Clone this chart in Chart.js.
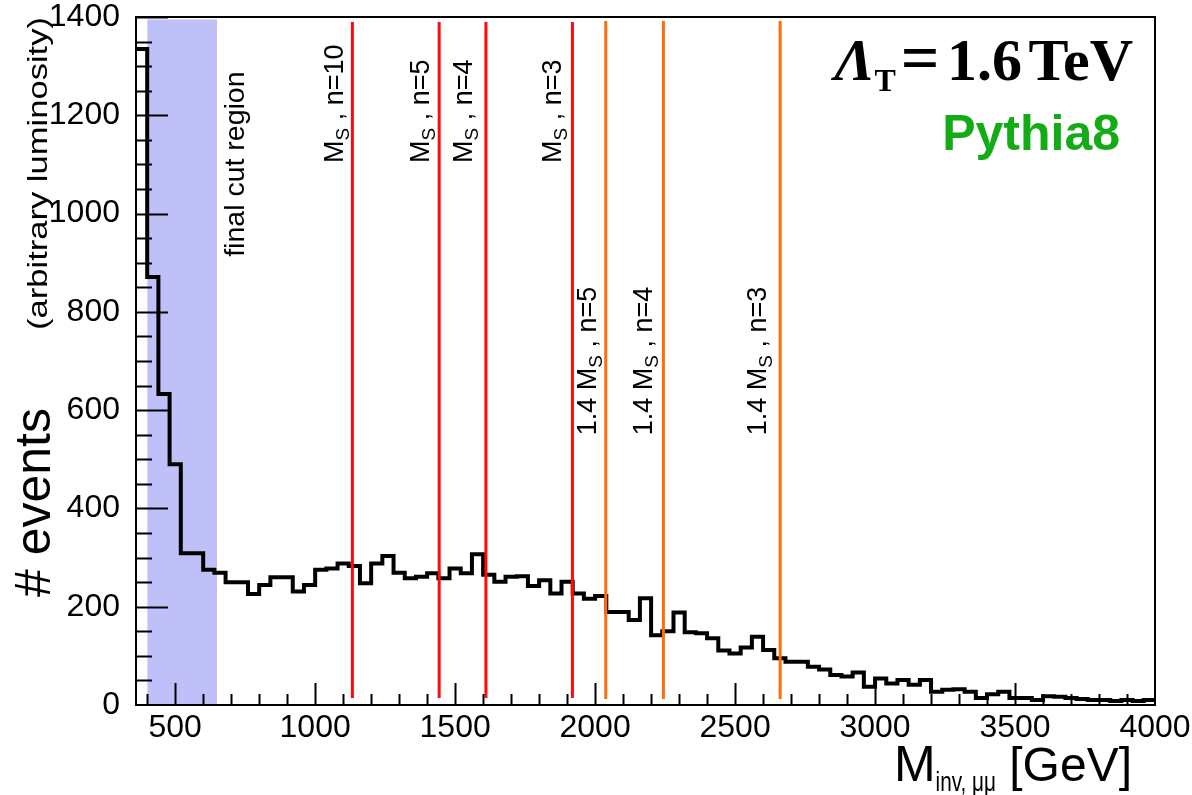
<!DOCTYPE html>
<html>
<head>
<meta charset="utf-8">
<script src="https://cdn.jsdelivr.net/npm/chart.js@4.4.0/dist/chart.umd.min.js"></script>
<style>
  html, body { margin: 0; padding: 0; background: #fff; }
</style>
</head>
<body>
<canvas id="spectrum" width="1192" height="795"></canvas>
<script>
// invariant mass histogram, 40 GeV bins starting at 360 GeV
const firstBin = 360;
const binWidth = 40;
const events = [
  1335, 871, 633, 490, 309, 309, 275, 269, 250, 250, 226, 244, 260, 260, 231, 244,
  275, 278, 288, 283, 248, 288, 303, 269, 258, 261, 268, 258, 278, 268, 307, 265,
  251, 261, 262, 242, 254, 227, 251, 227, 216,
  222, 189, 189, 173, 217, 142, 150, 188, 148, 146, 136, 111, 105, 117, 139, 112,
  95, 88, 88, 78, 72, 61, 58, 66, 37,
  54, 44, 51, 41, 51, 27, 31, 32, 27, 14, 22, 27, 14, 14, 10, 18,
  17, 14, 12, 10, 10, 8, 10, 8, 10
];

// M_S and 1.4 M_S markers (GeV)
const msMass = [1133, 1443, 1610, 1919];
const msNames = ['n=10', 'n=5', 'n=4', 'n=3'];
const ms14Mass = [2038, 2244, 2661];
const ms14Names = ['n=5', 'n=4', 'n=3'];
const cutRegion = [400, 650];

const xTicks = [500, 1000, 1500, 2000, 2500, 3000, 3500, 4000];
const yTicks = [0, 200, 400, 600, 800, 1000, 1200, 1400];

const SANS = '"Liberation Sans", Arial, sans-serif';
const SERIF = '"Liberation Serif", "Times New Roman", serif';

const histData = events.map((v, i) => ({ x: firstBin + i * binWidth, y: v }));
histData.push({ x: firstBin + events.length * binWidth, y: events[events.length - 1] });

const markerSets = [];
msMass.forEach(m => markerSets.push({
  data: [{ x: m, y: 14 }, { x: m, y: 1390 }],
  borderColor: '#ff0a0a', borderWidth: 3, pointRadius: 0, order: 1
}));
ms14Mass.forEach(m => markerSets.push({
  data: [{ x: m, y: 12 }, { x: m, y: 1392 }],
  borderColor: '#ff6e0a', borderWidth: 3, pointRadius: 0, order: 1
}));

// draws text runs along one baseline; r.sx stretches a run along the baseline
function drawRuns(ctx, x, y, runs, rotated, align) {
  ctx.save();
  ctx.translate(x, y);
  if (rotated) ctx.rotate(-Math.PI / 2);
  ctx.textAlign = 'left';
  ctx.textBaseline = 'alphabetic';
  const widthOf = r => { ctx.font = r.font; return ctx.measureText(r.text).width * (r.sx || 1); };
  const total = runs.reduce((s, r) => s + widthOf(r), 0);
  let pos = align === 'right' ? -total : 0;
  runs.forEach(r => {
    const w = widthOf(r);
    ctx.save();
    ctx.translate(pos, r.dy || 0);
    ctx.scale(r.sx || 1, 1);
    ctx.fillStyle = r.color || '#000';
    ctx.fillText(r.text, 0, 0);
    ctx.restore();
    pos += w;
  });
  ctx.restore();
}

function msRuns(prefix, name) {
  const runs = [];
  if (prefix) runs.push({ text: prefix, font: '27px ' + SANS });
  runs.push({ text: 'M', font: '27px ' + SANS });
  runs.push({ text: 'S', font: '19px ' + SANS, dy: 6 });
  runs.push({ text: ' , ' + name, font: '27px ' + SANS });
  return runs;
}

const decorations = {
  id: 'decorations',
  afterDatasetsDraw(chart) {
    const { ctx, chartArea: a, scales: { x, y } } = chart;
    ctx.save();

    // frame
    ctx.strokeStyle = '#000';
    ctx.lineWidth = 2;
    ctx.strokeRect(a.left, a.top, a.right - a.left, a.bottom - a.top);

    // inward ticks
    ctx.beginPath();
    for (let v = 400; v < 4000; v += 100) {
      const px = Math.round(x.getPixelForValue(v)) + 0.5;
      const len = v % 500 === 0 ? 22 : 11;
      ctx.moveTo(px, a.bottom);
      ctx.lineTo(px, a.bottom - len);
    }
    for (let v = 50; v <= 1400; v += 50) {
      const py = Math.round(y.getPixelForValue(v)) + 0.5;
      const len = v % 200 === 0 ? 32 : 16;
      ctx.moveTo(a.left, py);
      ctx.lineTo(a.left + len, py);
    }
    ctx.stroke();

    // marker labels
    drawRuns(ctx, x.getPixelForValue(746), y.getPixelForValue(912),
      [{ text: 'final cut region', font: '28.5px ' + SANS }], true);
    const msLabelX = [1100, 1407, 1561, 1879];
    msNames.forEach((n, i) => {
      drawRuns(ctx, x.getPixelForValue(msLabelX[i]), y.getPixelForValue(1103), msRuns('', n), true);
    });
    const ms14LabelX = [2004, 2204, 2611];
    ms14Names.forEach((n, i) => {
      drawRuns(ctx, x.getPixelForValue(ms14LabelX[i]), y.getPixelForValue(549), msRuns('1.4 ', n), true);
    });

    // header
    drawRuns(ctx, 1133, 80, [
      { text: 'Λ', font: 'italic bold 60px ' + SERIF },
      { text: 'T', font: 'bold 32px ' + SERIF, dy: 11 },
      { text: ' ', font: 'bold 20px ' + SERIF },
      { text: '=', font: 'bold 68px ' + SERIF },
      { text: ' ', font: 'bold 30px ' + SERIF },
      { text: '1.6', font: 'bold 60px ' + SERIF },
      { text: ' ', font: 'bold 26px ' + SERIF },
      { text: 'TeV', font: 'bold 60px ' + SERIF }
    ], false, 'right');
    drawRuns(ctx, 1120, 150, [
      { text: 'Pythia8', font: 'bold 50px ' + SANS, color: '#14ac14' }
    ], false, 'right');

    // axis titles
    drawRuns(ctx, 1132, 781, [
      { text: 'M', font: '50px ' + SANS },
      { text: 'inv, μμ', font: '28px ' + SANS, dy: 10, sx: 0.74 },
      { text: ' [GeV]', font: '48px ' + SANS }
    ], false, 'right');
    drawRuns(ctx, 50, 597, [{ text: '# events', font: '50px ' + SANS }], true);
    drawRuns(ctx, 47, 330, [{ text: '(arbitrary luminosity)', font: '27px ' + SANS, sx: 1.28 }], true);

    ctx.restore();
  }
};

new Chart(document.getElementById('spectrum'), {
  type: 'line',
  data: {
    datasets: [
      {
        data: [{ x: cutRegion[0], y: 1395 }, { x: cutRegion[1], y: 1395 }],
        borderWidth: 0, pointRadius: 0, fill: 'origin',
        backgroundColor: '#c0c0f8', order: 3
      },
      {
        data: histData, stepped: true, borderColor: '#000', borderWidth: 4,
        pointRadius: 0, fill: false, order: 2
      },
      ...markerSets
    ]
  },
  options: {
    responsive: false,
    animation: false,
    layout: { padding: { left: 0, right: 37, top: 17, bottom: 0 } },
    plugins: { legend: { display: false }, tooltip: { enabled: false } },
    scales: {
      x: {
        type: 'linear', min: 360, max: 4000,
        grid: { display: false }, border: { display: false },
        afterBuildTicks: s => { s.ticks = xTicks.map(v => ({ value: v })); },
        ticks: {
          font: { family: SANS, size: 32 }, color: '#000', padding: -4,
          maxRotation: 0, autoSkip: false, callback: v => String(v)
        },
        afterFit: s => { s.height = 90; }
      },
      y: {
        min: 0, max: 1400,
        grid: { display: false }, border: { display: false },
        afterBuildTicks: s => { s.ticks = yTicks.map(v => ({ value: v })); },
        ticks: {
          font: { family: SANS, size: 32, lineHeight: 0.55 }, color: '#000', padding: 8,
          callback: v => String(v)
        },
        afterFit: s => { s.width = 136; }
      }
    }
  },
  plugins: [decorations]
});
</script>
</body>
</html>
